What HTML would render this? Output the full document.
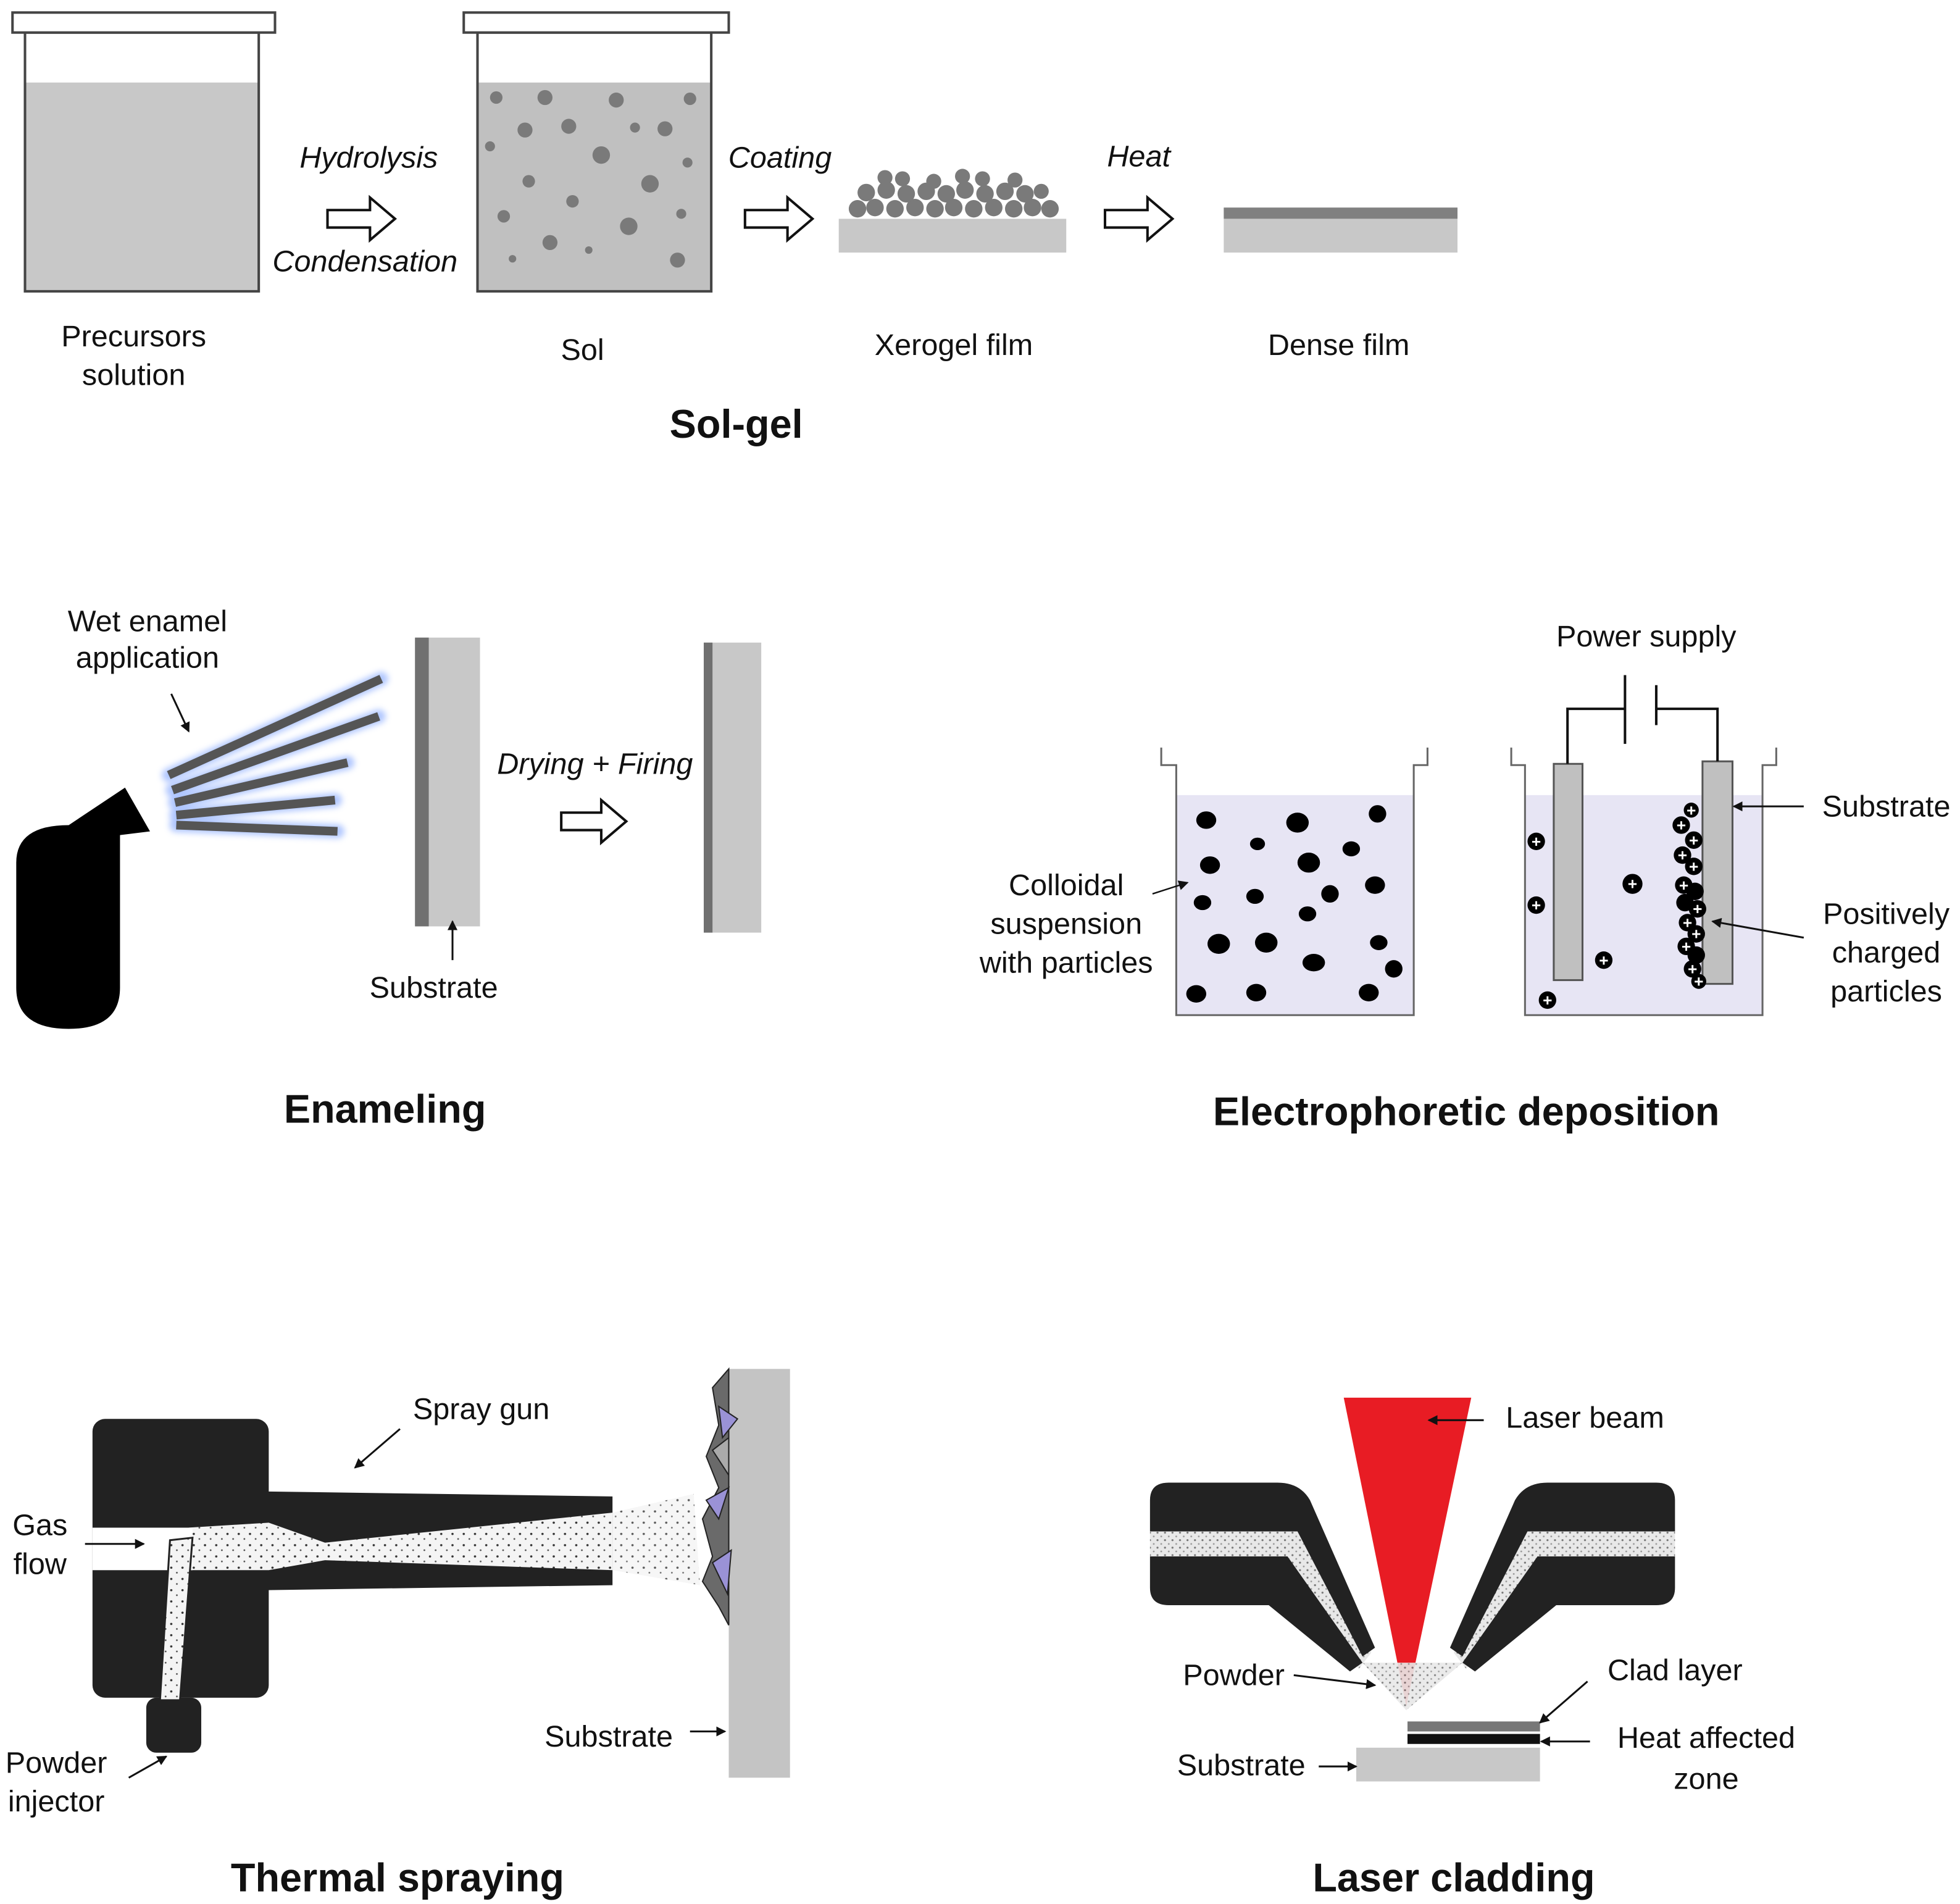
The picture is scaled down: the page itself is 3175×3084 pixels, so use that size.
<!DOCTYPE html>
<html><head><meta charset="utf-8"><style>html,body{margin:0;padding:0;background:#fff}svg{display:block}text{font-family:"Liberation Sans",sans-serif;fill:#111}</style></head><body>
<svg width="3175" height="3084" viewBox="0 0 1568 1523" xmlns="http://www.w3.org/2000/svg">
<defs>
<marker id="ah" markerWidth="8" markerHeight="8" refX="7" refY="4" orient="auto" markerUnits="userSpaceOnUse"><path d="M0,0 L8,4 L0,8 z" fill="#111"/></marker>
<filter id="glow"><feGaussianBlur stdDeviation="2.5"/></filter>
<pattern id="dots" width="9" height="9" patternUnits="userSpaceOnUse"><rect width="9" height="9" fill="#f4f4f4"/><circle cx="2" cy="3" r="0.9" fill="#333"/><circle cx="6.5" cy="7" r="0.7" fill="#555"/></pattern>
<pattern id="gdots" width="6" height="6" patternUnits="userSpaceOnUse"><rect width="6" height="6" fill="#e8e8e8"/><circle cx="2" cy="2" r="0.8" fill="#777"/><circle cx="5" cy="5" r="0.7" fill="#999"/></pattern>
</defs>
<g font-size="24" text-anchor="middle">
<!-- Sol-gel -->
<rect x="20" y="66" width="187" height="167" fill="#c8c8c8"/>
<rect x="20" y="26" width="187" height="207" fill="none" stroke="#444" stroke-width="2"/>
<rect x="10" y="10" width="210" height="16" fill="#fff" stroke="#444" stroke-width="2"/>
<text x="295" y="134" font-style="italic">Hydrolysis</text>
<path d="M262,168 h34 v-10 l20,17 l-20,17 v-10 h-34 z" fill="#fff" stroke="#111" stroke-width="2"/>
<text x="292" y="217" font-style="italic">Condensation</text>
<rect x="382" y="66" width="187" height="167" fill="#c0c0c0"/>
<g fill="#7a7a7a">
<circle cx="397" cy="78" r="5"/><circle cx="436" cy="78" r="6"/><circle cx="493" cy="80" r="6"/><circle cx="552" cy="79" r="5"/><circle cx="420" cy="104" r="6"/><circle cx="455" cy="101" r="6"/><circle cx="508" cy="102" r="4"/><circle cx="532" cy="103" r="6"/><circle cx="392" cy="117" r="4"/><circle cx="481" cy="124" r="7"/><circle cx="550" cy="130" r="4"/><circle cx="423" cy="145" r="5"/><circle cx="520" cy="147" r="7"/><circle cx="458" cy="161" r="5"/><circle cx="403" cy="173" r="5"/><circle cx="503" cy="181" r="7"/><circle cx="545" cy="171" r="4"/><circle cx="440" cy="194" r="6"/><circle cx="471" cy="200" r="3"/><circle cx="410" cy="207" r="3"/><circle cx="542" cy="208" r="6"/></g>
<rect x="382" y="26" width="187" height="207" fill="none" stroke="#444" stroke-width="2"/>
<rect x="371" y="10" width="212" height="16" fill="#fff" stroke="#444" stroke-width="2"/>
<text x="624" y="134" font-style="italic">Coating</text>
<path d="M596,168 h34 v-10 l20,17 l-20,17 v-10 h-34 z" fill="#fff" stroke="#111" stroke-width="2"/>
<rect x="671" y="175" width="182" height="27" fill="#c8c8c8"/>
<g fill="#7a7a7a">
<circle cx="686" cy="167" r="7"/><circle cx="700" cy="166" r="7"/><circle cx="716" cy="167" r="7"/><circle cx="732" cy="166" r="7"/><circle cx="748" cy="167" r="7"/><circle cx="763" cy="166" r="7"/><circle cx="779" cy="167" r="7"/><circle cx="795" cy="166" r="7"/><circle cx="811" cy="167" r="7"/><circle cx="826" cy="166" r="7"/><circle cx="840" cy="167" r="7"/>
<circle cx="693" cy="154" r="7"/><circle cx="709" cy="152" r="7"/><circle cx="725" cy="155" r="7"/><circle cx="741" cy="153" r="7"/><circle cx="757" cy="155" r="7"/><circle cx="772" cy="152" r="7"/><circle cx="788" cy="155" r="7"/><circle cx="804" cy="153" r="7"/><circle cx="820" cy="155" r="7"/><circle cx="833" cy="153" r="6"/>
<circle cx="708" cy="142" r="6"/><circle cx="722" cy="143" r="6"/><circle cx="747" cy="145" r="6"/><circle cx="770" cy="141" r="6"/><circle cx="786" cy="143" r="6"/><circle cx="812" cy="144" r="6"/></g>
<text x="911" y="133" font-style="italic">Heat</text>
<path d="M884,168 h34 v-10 l20,17 l-20,17 v-10 h-34 z" fill="#fff" stroke="#111" stroke-width="2"/>
<rect x="979" y="166" width="187" height="9" fill="#808080"/>
<rect x="979" y="175" width="187" height="27" fill="#c8c8c8"/>
<text x="107" y="277">Precursors</text><text x="107" y="308">solution</text>
<text x="466" y="288">Sol</text><text x="763" y="284">Xerogel film</text><text x="1071" y="284">Dense film</text>
<text x="589" y="350" font-size="32" font-weight="bold">Sol-gel</text>

<!-- Enameling -->
<path d="M55,660 L100,630 L120,665 L96,668 L96,790 Q96,823 55,823 Q13,823 13,790 L13,690 Q13,660 55,660 z" fill="#000"/>
<g stroke="#7aa0ff" stroke-width="11" filter="url(#glow)" opacity="0.6" stroke-linecap="round">
<line x1="135" y1="620" x2="305" y2="543"/><line x1="138" y1="632" x2="303" y2="573"/><line x1="140" y1="642" x2="278" y2="610"/><line x1="141" y1="652" x2="268" y2="640"/><line x1="141" y1="660" x2="270" y2="665"/></g>
<g stroke="#555" stroke-width="7">
<line x1="135" y1="620" x2="305" y2="543"/><line x1="138" y1="632" x2="303" y2="573"/><line x1="140" y1="642" x2="278" y2="610"/><line x1="141" y1="652" x2="268" y2="640"/><line x1="141" y1="660" x2="270" y2="665"/></g>
<rect x="332" y="510" width="52" height="231" fill="#c8c8c8"/><rect x="332" y="510" width="11" height="231" fill="#707070"/>
<line x1="362" y1="768" x2="362" y2="737" stroke="#111" stroke-width="1.5" marker-end="url(#ah)"/>
<text x="347" y="798">Substrate</text>
<text x="476" y="619" font-style="italic">Drying + Firing</text>
<path d="M449,650 h32 v-10 l20,17 l-20,17 v-10 h-32 z" fill="#fff" stroke="#111" stroke-width="2"/>
<rect x="563" y="514" width="46" height="232" fill="#c8c8c8"/><rect x="563" y="514" width="7" height="232" fill="#707070"/>
<text x="118" y="505">Wet enamel</text><text x="118" y="534">application</text>
<line x1="137" y1="555" x2="151" y2="585" stroke="#111" stroke-width="1.5" marker-end="url(#ah)"/>
<text x="308" y="898" font-size="32" font-weight="bold">Enameling</text>

<!-- EPD -->
<rect x="941" y="636" width="190" height="176" fill="#e7e5f4"/>
<path d="M929,598 V612 H941 V812 H1131 V612 H1142 V598" fill="none" stroke="#666" stroke-width="1.5"/>
<g fill="#000">
<ellipse cx="965" cy="656" rx="8" ry="7"/><ellipse cx="1038" cy="658" rx="9" ry="8"/><ellipse cx="1102" cy="651" rx="7" ry="7"/><ellipse cx="1006" cy="675" rx="6" ry="5"/><ellipse cx="968" cy="692" rx="8" ry="7"/><ellipse cx="1047" cy="690" rx="9" ry="8"/><ellipse cx="1081" cy="679" rx="7" ry="6"/><ellipse cx="962" cy="722" rx="7" ry="6"/><ellipse cx="1004" cy="717" rx="7" ry="6"/><ellipse cx="1064" cy="715" rx="7" ry="7"/><ellipse cx="1100" cy="708" rx="8" ry="7"/><ellipse cx="1046" cy="731" rx="7" ry="6"/><ellipse cx="975" cy="755" rx="9" ry="8"/><ellipse cx="1013" cy="754" rx="9" ry="8"/><ellipse cx="1103" cy="754" rx="7" ry="6"/><ellipse cx="1051" cy="770" rx="9" ry="7"/><ellipse cx="1115" cy="775" rx="7" ry="7"/><ellipse cx="957" cy="795" rx="8" ry="7"/><ellipse cx="1005" cy="794" rx="8" ry="7"/><ellipse cx="1095" cy="794" rx="8" ry="7"/></g>
<rect x="1220" y="636" width="190" height="176" fill="#e7e5f4"/>
<path d="M1209,598 V612 H1220 V812 H1410 V612 H1421 V598" fill="none" stroke="#666" stroke-width="1.5"/>
<rect x="1243" y="611" width="23" height="173" fill="#c0c0c0" stroke="#555" stroke-width="1.5"/>
<rect x="1362" y="609" width="24" height="178" fill="#c0c0c0" stroke="#555" stroke-width="1.5"/>
<path d="M1254,611 V567 H1300 M1300,540 V595 M1325,548 V580 M1325,567 H1374 V609" fill="none" stroke="#111" stroke-width="2"/>
<text x="1317" y="517">Power supply</text>
<g fill="#000"><circle cx="1229" cy="673" r="7"/><circle cx="1229" cy="724" r="7"/><circle cx="1306" cy="707" r="8"/><circle cx="1283" cy="768" r="7"/><circle cx="1238" cy="800" r="7"/>
<circle cx="1345" cy="660" r="7"/><circle cx="1353" cy="648" r="6"/><circle cx="1355" cy="672" r="7"/><circle cx="1346" cy="684" r="7"/><circle cx="1355" cy="693" r="7"/><circle cx="1347" cy="708" r="7"/><circle cx="1356" cy="713" r="7"/><circle cx="1348" cy="722" r="7"/><circle cx="1358" cy="727" r="7"/><circle cx="1350" cy="738" r="7"/><circle cx="1357" cy="747" r="7"/><circle cx="1349" cy="757" r="7"/><circle cx="1357" cy="764" r="7"/><circle cx="1354" cy="775" r="7"/><circle cx="1359" cy="785" r="6"/></g>
<g font-size="13" font-weight="bold" style="fill:#fff"><text style="fill:#fff" x="1229" y="677.5">+</text><text style="fill:#fff" x="1229" y="728.5">+</text><text style="fill:#fff" x="1306" y="711.5">+</text><text style="fill:#fff" x="1283" y="772.5">+</text><text style="fill:#fff" x="1238" y="804.5">+</text><text style="fill:#fff" x="1345" y="664.5">+</text><text style="fill:#fff" x="1353" y="652.5">+</text><text style="fill:#fff" x="1355" y="676.5">+</text><text style="fill:#fff" x="1346" y="688.5">+</text><text style="fill:#fff" x="1355" y="697.5">+</text><text style="fill:#fff" x="1347" y="712.5">+</text><text style="fill:#fff" x="1358" y="731.5">+</text><text style="fill:#fff" x="1350" y="742.5">+</text><text style="fill:#fff" x="1357" y="751.5">+</text><text style="fill:#fff" x="1349" y="761.5">+</text><text style="fill:#fff" x="1354" y="779.5">+</text><text style="fill:#fff" x="1359" y="789.5">+</text></g>
<line x1="1443" y1="645" x2="1387" y2="645" stroke="#111" stroke-width="1.5" marker-end="url(#ah)"/>
<text x="1509" y="653">Substrate</text>
<line x1="1443" y1="750" x2="1370" y2="737" stroke="#111" stroke-width="1.5" marker-end="url(#ah)"/>
<text x="1509" y="739">Positively</text><text x="1509" y="770">charged</text><text x="1509" y="801">particles</text>
<text x="853" y="716">Colloidal</text><text x="853" y="747">suspension</text><text x="853" y="778">with particles</text>
<line x1="922" y1="715" x2="950" y2="706" stroke="#111" stroke-width="1.2" marker-end="url(#ah)"/>
<text x="1173" y="900" font-size="32" font-weight="bold">Electrophoretic deposition</text>

<!-- Thermal spraying -->
<rect x="74" y="1135" width="141" height="223" rx="10" fill="#222"/>
<polygon points="210,1193 490,1197 490,1268 210,1272" fill="#222"/>
<polygon points="150,1222 215,1218 260,1234 490,1210 490,1256 260,1248 215,1256 150,1256" fill="url(#dots)"/>
<polygon points="490,1210 555,1195 560,1268 490,1256" fill="url(#dots)" opacity="0.8"/>
<rect x="74" y="1222" width="80" height="34" fill="#fff"/>
<rect x="117" y="1358" width="44" height="44" rx="8" fill="#222"/>
<polygon points="128,1360 136,1232 154,1230 144,1360" fill="url(#dots)" stroke="#222" stroke-width="1.5"/>
<rect x="583" y="1095" width="49" height="327" fill="#c4c4c4"/>
<g stroke="#222" stroke-width="1">
<polygon points="583,1095 570,1110 575,1140 565,1165 575,1190 562,1215 570,1245 562,1265 575,1285 583,1300" fill="#6a6a6a"/>
<polygon points="575,1125 590,1135 578,1150" fill="#9a92d6"/><polygon points="565,1200 583,1190 575,1215" fill="#9a92d6"/><polygon points="570,1250 585,1240 582,1275" fill="#9a92d6"/><polygon points="570,1160 583,1150 583,1180" fill="#aaa"/></g>
<text x="385" y="1135">Spray gun</text>
<line x1="320" y1="1143" x2="284" y2="1174" stroke="#111" stroke-width="1.5" marker-end="url(#ah)"/>
<text x="32" y="1228">Gas</text><text x="32" y="1259">flow</text>
<line x1="68" y1="1235" x2="115" y2="1235" stroke="#111" stroke-width="1.5" marker-end="url(#ah)"/>
<text x="45" y="1418">Powder</text><text x="45" y="1449">injector</text>
<line x1="103" y1="1422" x2="133" y2="1405" stroke="#111" stroke-width="1.5" marker-end="url(#ah)"/>
<text x="487" y="1397">Substrate</text>
<line x1="552" y1="1385" x2="580" y2="1385" stroke="#111" stroke-width="1.5" marker-end="url(#ah)"/>
<text x="318" y="1513" font-size="32" font-weight="bold">Thermal spraying</text>

<!-- Laser cladding -->
<polygon points="1075,1118 1177,1118 1125,1365" fill="#e81c24"/>
<g id="nz">
<polygon points="920,1225 1040,1225 1097,1322 1087,1335 1030,1245 920,1245" fill="url(#gdots)"/>
<path d="M935,1186 H1022 Q1040,1186 1048,1200 L1100,1318 L1090,1325 L1038,1225 H920 V1200 Q920,1186 935,1186 z" fill="#222"/>
<path d="M920,1245 H1030 L1090,1330 L1080,1337 L1015,1284 H935 Q920,1284 920,1270 z" fill="#222"/>
</g>
<use href="#nz" transform="translate(2260,0) scale(-1,1)"/>
<polygon points="1090,1330 1170,1330 1125,1368" fill="url(#gdots)" opacity="0.9"/>
<rect x="1126" y="1377" width="106" height="8" fill="#777"/>
<rect x="1126" y="1387" width="106" height="8" fill="#111"/>
<rect x="1085" y="1398" width="147" height="27" fill="#c8c8c8"/>
<text x="1268" y="1142">Laser beam</text>
<line x1="1187" y1="1136" x2="1143" y2="1136" stroke="#111" stroke-width="1.5" marker-end="url(#ah)"/>
<text x="987" y="1348">Powder</text>
<line x1="1035" y1="1340" x2="1100" y2="1348" stroke="#111" stroke-width="1.5" marker-end="url(#ah)"/>
<text x="1340" y="1344">Clad layer</text>
<line x1="1270" y1="1345" x2="1232" y2="1378" stroke="#111" stroke-width="1.5" marker-end="url(#ah)"/>
<text x="1365" y="1398">Heat affected</text><text x="1365" y="1431">zone</text>
<line x1="1272" y1="1393" x2="1233" y2="1393" stroke="#111" stroke-width="1.5" marker-end="url(#ah)"/>
<text x="993" y="1420">Substrate</text>
<line x1="1055" y1="1413" x2="1085" y2="1413" stroke="#111" stroke-width="1.5" marker-end="url(#ah)"/>
<text x="1163" y="1513" font-size="32" font-weight="bold">Laser cladding</text>
</g>
</svg>
</body></html>
